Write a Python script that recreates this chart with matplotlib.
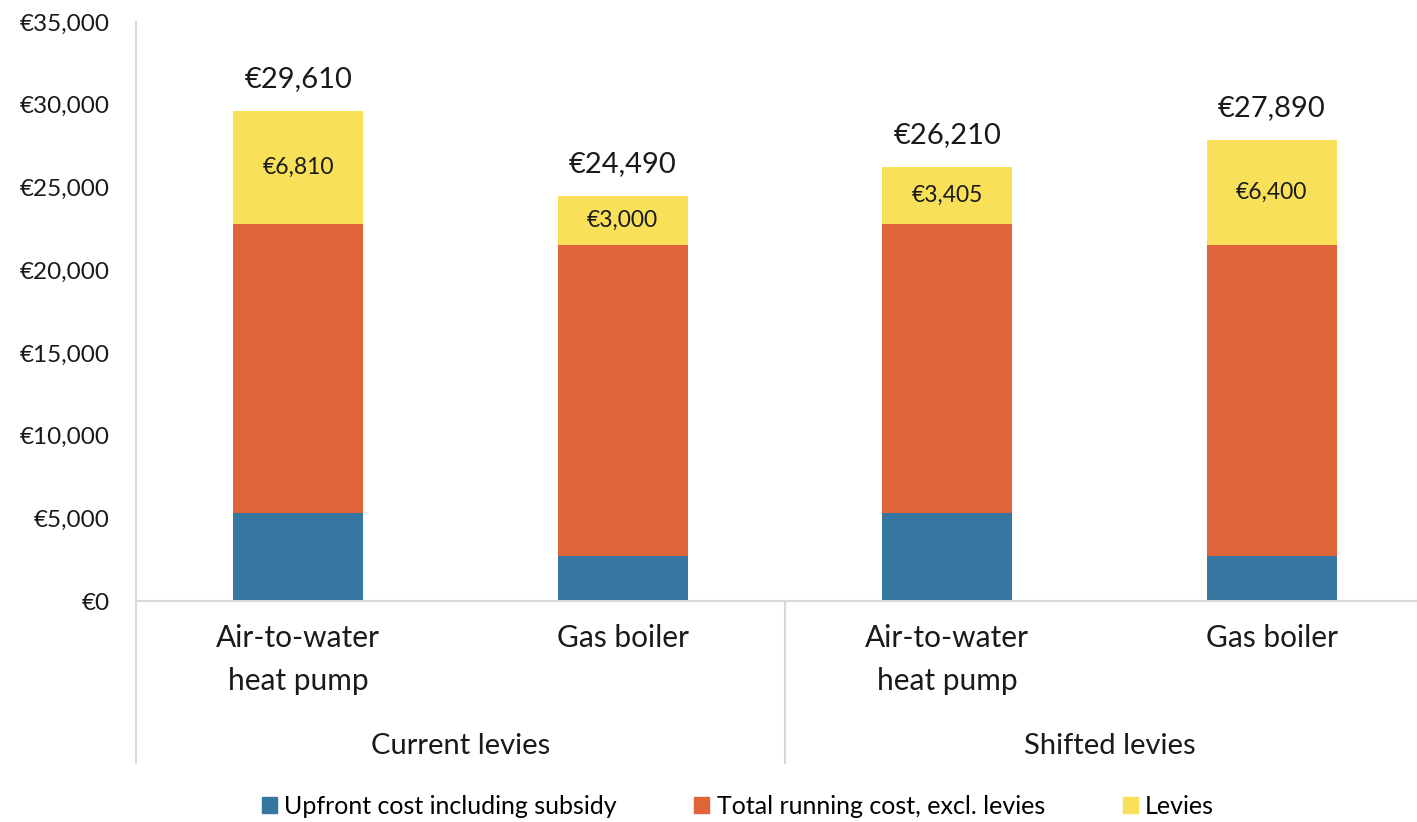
import matplotlib
matplotlib.use("Agg")
import matplotlib.pyplot as plt
import matplotlib.transforms as mtransforms
from matplotlib.patches import Patch
import numpy as np

plt.rcParams['font.family'] = ['Lato', 'DejaVu Sans']

# data
categories = ["Air-to-water\nheat pump", "Gas boiler", "Air-to-water\nheat pump", "Gas boiler"]
groups = ["Current levies", "Shifted levies"]
upfront = [5300, 2700, 5300, 2700]
running = [17500, 18790, 17505, 18790]
levies = [6810, 3000, 3405, 6400]
series_names = ["Upfront cost including subsidy", "Total running cost, excl. levies", "Levies"]
colors = ["#3577A0", "#E0643A", "#F8E058"]

W, H = 1417, 822
fig = plt.figure(figsize=(W / 100, H / 100), dpi=100)
ax = fig.add_axes([136 / W, 1 - 601 / H, 1298 / W, 579 / H])

x = np.arange(len(categories))
up = np.array(upfront)
run = np.array(running)
lev = np.array(levies)
bw = 0.4
ax.bar(x, up, bw, color=colors[0], label=series_names[0])
ax.bar(x, run, bw, bottom=up, color=colors[1], label=series_names[1])
ax.bar(x, lev, bw, bottom=up + run, color=colors[2], label=series_names[2])

total = up + run + lev
for i in range(len(x)):
    ax.text(x[i], up[i] + run[i] + lev[i] / 2, f"€{lev[i]:,}", ha="center", va="center",
            fontsize=16.5, color="#1a1a1a")
    ax.text(x[i], total[i] + 1150, f"€{total[i]:,}", ha="center", va="bottom",
            fontsize=21, color="#1a1a1a")

ax.set_xlim(-0.5, 3.5)
ax.set_ylim(0, 35000)
ax.set_yticks(np.arange(0, 35001, 5000))
ax.set_yticklabels([f"€{v:,}" for v in range(0, 35001, 5000)], fontsize=17.5, color="#1a1a1a")
ax.tick_params(axis="y", length=0, pad=19)
ax.set_xticks([])

for s in ["top", "right", "left"]:
    ax.spines[s].set_visible(False)
ax.spines["bottom"].set_color("#D9D9D9")
ax.spines["bottom"].set_linewidth(1.5)

# category and group labels below axis
trans = mtransforms.blended_transform_factory(ax.transData, ax.transAxes)
low = (601 - 763) / 579
ax.plot([-0.5, -0.5], [low, 1.0], transform=trans, color="#D9D9D9", lw=1.5, clip_on=False)
ax.plot([1.5, 1.5], [low, 0.0], transform=trans, color="#D9D9D9", lw=1.5, clip_on=False)
for i, c in enumerate(categories):
    ax.text(x[i], (601 - 624) / 579, c, transform=trans, ha="center", va="top",
            fontsize=21.5, color="#1a1a1a", linespacing=1.65)
for g, name in enumerate(groups):
    ax.text(2 * g + 0.5, (601 - 746) / 579, name, transform=trans, ha="center", va="center",
            fontsize=21, color="#1a1a1a")

handles = [Patch(color=colors[k], label=series_names[k]) for k in range(3)]
fig.legend(handles=handles, loc="center", bbox_to_anchor=(738 / W, 1 - 806 / H), ncol=3,
           frameon=False, fontsize=18, handlelength=0.6, handleheight=0.6,
           handletextpad=0.3, columnspacing=3.1)

fig.savefig("out.png", dpi=100)
